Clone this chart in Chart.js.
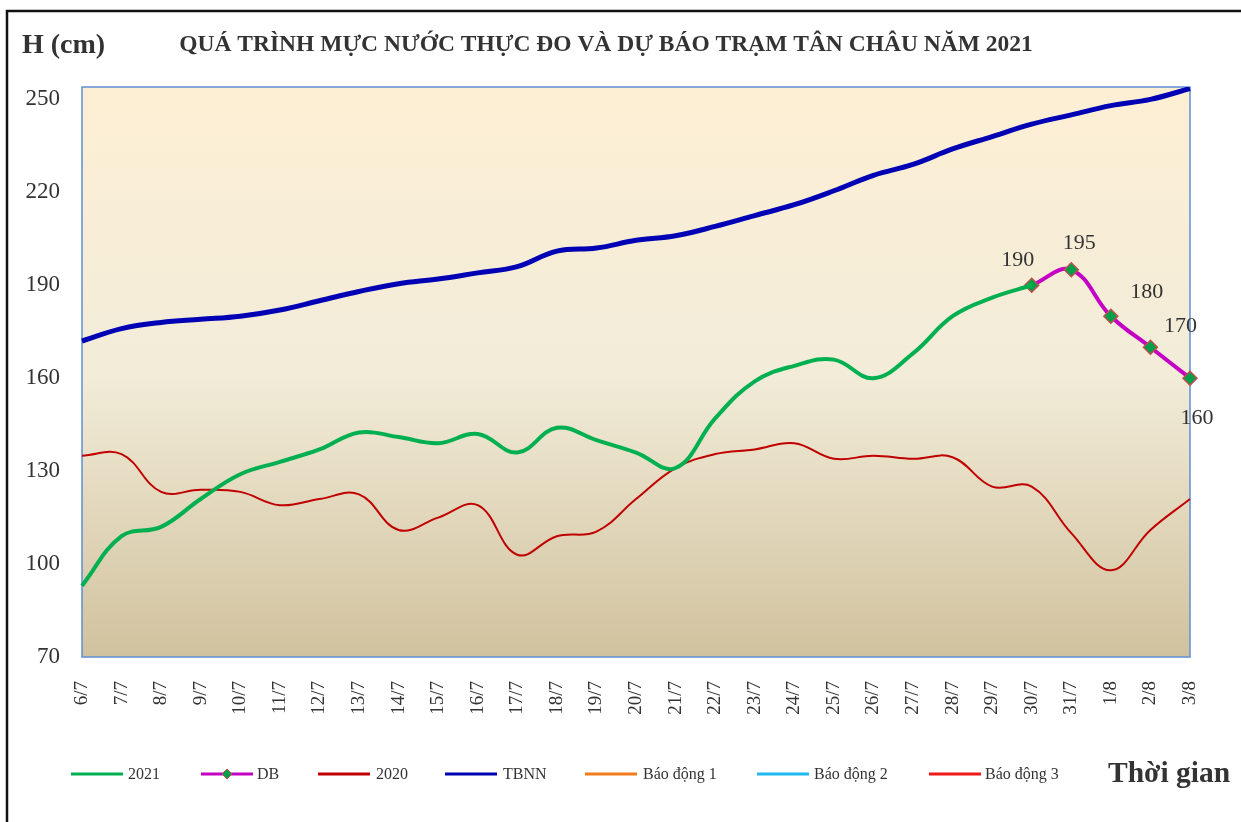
<!DOCTYPE html>
<html>
<head>
<meta charset="utf-8">
<script src="https://cdn.jsdelivr.net/npm/chart.js@4/dist/chart.umd.min.js"></script>
<style>
  body { margin: 0; background: #fff; }
</style>
</head>
<body>
<canvas id="tanchauChart" width="1241" height="822"></canvas>
<script>
const days = ['6/7', '7/7', '8/7', '9/7', '10/7', '11/7', '12/7', '13/7', '14/7', '15/7',
    '16/7', '17/7', '18/7', '19/7', '20/7', '21/7', '22/7', '23/7', '24/7', '25/7',
    '26/7', '27/7', '28/7', '29/7', '30/7', '31/7', '1/8', '2/8', '3/8']
const yTicks = [70, 100, 130, 160, 190, 220, 250]

const h2021 = [93, 109, 112, 121, 129, 133, 137, 142.5, 141, 139, 142, 136, 144, 140, 136, 131,
    147, 159, 164, 166, 160, 168, 180, 186, 190, null, null, null, null]
const forecast = [null, null, null, null, null, null, null, null, null, null, null, null, null,
    null, null, null, null, null, null, null, null, null, null, null, 190, 195, 180, 170, 160]
const h2020 = [135, 135.5, 123.3, 124, 123.3, 119, 121, 122.5, 111, 115, 119, 103, 109, 110.5, 121,
    131, 135.5, 137, 139, 134, 135, 134, 134.5, 125, 125, 110, 98, 111, 121]
const tbnn = [172, 176, 178, 179, 180, 182, 185, 188, 190.5, 192, 194, 196, 201, 202, 204.5, 206,
    209, 212.5, 216, 220.5, 225.5, 229, 234, 238, 242, 245, 248, 250, 253.5]

const serif = "'Liberation Serif', 'Times New Roman', serif"

const chartDecor = {
    id: 'chartDecor',
    beforeDatasetsDraw(chart) {
        const {ctx, chartArea: a} = chart
        const g = ctx.createLinearGradient(0, a.top, 0, a.bottom)
        g.addColorStop(0, '#fdefd4')
        g.addColorStop(0.5, '#f2ecd9')
        g.addColorStop(1, '#d1c29e')
        ctx.save()
        ctx.fillStyle = g
        ctx.fillRect(a.left, a.top, a.right - a.left, a.bottom - a.top)
        ctx.strokeStyle = '#5f8fd2'
        ctx.lineWidth = 1.5
        ctx.strokeRect(a.left, a.top, a.right - a.left, a.bottom - a.top)
        ctx.restore()
    },
    afterDraw(chart) {
        const ctx = chart.ctx
        ctx.save()
        // outer frame
        ctx.strokeStyle = '#111'
        ctx.lineWidth = 2.5
        ctx.beginPath()
        ctx.moveTo(7, 900)
        ctx.lineTo(7, 11)
        ctx.lineTo(1300, 11)
        ctx.stroke()

        ctx.fillStyle = '#333'
        ctx.textBaseline = 'middle'
        ctx.font = 'bold 28px ' + serif
        ctx.textAlign = 'left'
        ctx.fillText('H (cm)', 22, 46)
        ctx.font = 'bold 23.5px ' + serif
        ctx.textAlign = 'center'
        ctx.fillText('QUÁ TRÌNH MỰC NƯỚC THỰC ĐO VÀ DỰ BÁO TRẠM TÂN CHÂU NĂM 2021', 606, 45)
        ctx.font = 'bold 29.5px ' + serif
        ctx.textAlign = 'left'
        ctx.fillText('Thời gian', 1108, 774)

        // data labels on forecast points
        const offsets = [[-14, -25], [8, -27], [36, -24], [30, -21], [7, 40]]
        const meta = chart.getDatasetMeta(1)
        ctx.font = '22px ' + serif
        ctx.textAlign = 'center'
        ctx.fillStyle = '#333'
        let k = 0
        meta.data.forEach((pt, i) => {
            if (forecast[i] == null) return
            const o = offsets[k++] || [0, -24]
            ctx.fillText(String(forecast[i]), pt.x + o[0], pt.y + o[1])
        })

        // legend
        const items = [[71, 128], [201, 257], [318, 376], [445, 503], [585, 643], [757, 814], [929, 985]]
        const ly = 774
        ctx.font = '16px ' + serif
        ctx.textAlign = 'left'
        chart.data.datasets.forEach((ds, i) => {
            const [x0, tx] = items[i]
            ctx.strokeStyle = ds.borderColor
            ctx.lineWidth = 3
            ctx.beginPath()
            ctx.moveTo(x0, ly)
            ctx.lineTo(x0 + 52, ly)
            ctx.stroke()
            if (ds.pointStyle === 'rectRot') {
                ctx.fillStyle = ds.pointBackgroundColor
                ctx.strokeStyle = ds.pointBorderColor
                ctx.lineWidth = 1
                ctx.beginPath()
                ctx.moveTo(x0 + 26, ly - 5)
                ctx.lineTo(x0 + 31, ly)
                ctx.lineTo(x0 + 26, ly + 5)
                ctx.lineTo(x0 + 21, ly)
                ctx.closePath()
                ctx.fill()
                ctx.stroke()
            }
            ctx.fillStyle = '#333'
            ctx.fillText(ds.label, tx, ly + 1)
        })
        ctx.restore()
    }
}

const ctx = document.getElementById('tanchauChart').getContext('2d')
const tanchauChart = new Chart(ctx, {
    type: 'line',
    data: {
        labels: days,
        datasets: [{
            label: '2021',
            data: h2021,
            borderColor: '#00b050',
            borderWidth: 4,
            pointRadius: 0,
            tension: 0.4
        }, {
            label: 'DB',
            data: forecast,
            borderColor: '#c400c4',
            borderWidth: 4,
            pointStyle: 'rectRot',
            pointRadius: 7,
            pointBackgroundColor: '#00a04a',
            pointBorderColor: '#c0504d',
            pointBorderWidth: 1.5,
            tension: 0.4
        }, {
            label: '2020',
            data: h2020,
            borderColor: '#c00000',
            borderWidth: 2,
            pointRadius: 0,
            tension: 0.4
        }, {
            label: 'TBNN',
            data: tbnn,
            borderColor: '#0000b4',
            borderWidth: 5,
            pointRadius: 0,
            tension: 0.4
        }, {
            label: 'Báo động 1',
            data: [],
            borderColor: '#f07c1c',
            pointRadius: 0
        }, {
            label: 'Báo động 2',
            data: [],
            borderColor: '#1cb8ee',
            pointRadius: 0
        }, {
            label: 'Báo động 3',
            data: [],
            borderColor: '#f01818',
            pointRadius: 0
        }]
    },
    options: {
        responsive: false,
        animation: false,
        layout: {
            padding: {left: 10, right: 51, top: 87, bottom: 100}
        },
        plugins: {
            legend: {display: false},
            title: {display: false},
            tooltip: {enabled: false}
        },
        scales: {
            x: {
                offset: false,
                grid: {display: false, drawTicks: false},
                border: {display: false},
                ticks: {
                    minRotation: 90,
                    maxRotation: 90,
                    autoSkip: false,
                    padding: 24,
                    color: '#333',
                    font: {family: serif, size: 19}
                },
                afterFit(scale) { scale.height = 65 }
            },
            y: {
                min: 70,
                max: 254,
                grid: {display: false, drawTicks: false},
                border: {display: false},
                ticks: {
                    padding: 22,
                    color: '#333',
                    font: {family: serif, size: 23}
                },
                afterBuildTicks(scale) {
                    scale.ticks = yTicks.map(v => ({value: v}))
                },
                afterFit(scale) { scale.width = 72 }
            }
        }
    },
    plugins: [chartDecor]
});
</script>
</body>
</html>
